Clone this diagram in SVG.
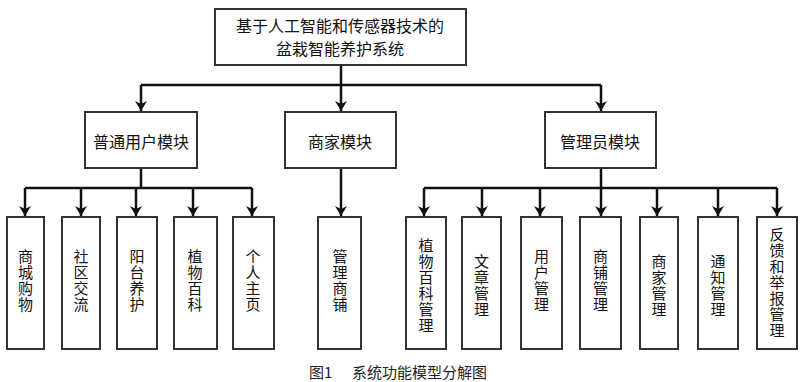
<svg xmlns="http://www.w3.org/2000/svg" width="800" height="382" viewBox="0 0 800 382">
<style>
.box{fill:#fff;stroke:#333;stroke-width:2}
.t{font-family:"Noto Sans CJK SC",sans-serif;font-size:16px;fill:#111;text-anchor:middle}
.v{font-family:"Noto Sans CJK SC",sans-serif;font-size:15px;fill:#111;text-anchor:middle;writing-mode:vertical-rl;letter-spacing:1px}
.c{fill:none;stroke:#111;stroke-width:2.5}
.cap{font-family:"Noto Sans CJK SC",sans-serif;font-size:15px;fill:#222}
</style>
<defs>
<marker id="a" markerUnits="userSpaceOnUse" markerWidth="12" markerHeight="12" refX="10" refY="6" orient="auto" viewBox="0 0 12 12">
<path d="M0,0 L10,6 L0,12 L3,6 z" fill="#111"/>
</marker>
</defs>
<rect width="800" height="382" fill="#fff"/>
<g id="connectors">
<path class="c" d="M341,65 V85 M141,85 H601"/>
<path class="c" d="M141,85 V111" marker-end="url(#a)"/>
<path class="c" d="M341,85 V111" marker-end="url(#a)"/>
<path class="c" d="M601,85 V111" marker-end="url(#a)"/>
<path class="c" d="M141,168 V188 M25,188 H252"/>
<path class="c" d="M25,188 V216" marker-end="url(#a)"/>
<path class="c" d="M81,188 V216" marker-end="url(#a)"/>
<path class="c" d="M136,188 V216" marker-end="url(#a)"/>
<path class="c" d="M193,188 V216" marker-end="url(#a)"/>
<path class="c" d="M252,188 V216" marker-end="url(#a)"/>
<path class="c" d="M341,168 V216" marker-end="url(#a)"/>
<path class="c" d="M601,168 V188 M424,188 H777"/>
<path class="c" d="M424,188 V216" marker-end="url(#a)"/>
<path class="c" d="M482,188 V216" marker-end="url(#a)"/>
<path class="c" d="M540,188 V216" marker-end="url(#a)"/>
<path class="c" d="M601,188 V216" marker-end="url(#a)"/>
<path class="c" d="M657,188 V216" marker-end="url(#a)"/>
<path class="c" d="M718,188 V216" marker-end="url(#a)"/>
<path class="c" d="M777,188 V216" marker-end="url(#a)"/>
</g>
<g id="root">
<rect class="box" x="215" y="9" width="251" height="56"/>
<text class="t" x="340" y="32">基于人工智能和传感器技术的</text>
<text class="t" x="340" y="55">盆栽智能养护系统</text>
</g>
<g id="m-user">
<rect class="box" x="85" y="112" width="112" height="56"/>
<text class="t" x="141" y="148">普通用户模块</text>
</g>
<g id="m-merchant">
<rect class="box" x="285" y="112" width="111" height="56"/>
<text class="t" x="340" y="148">商家模块</text>
</g>
<g id="m-admin">
<rect class="box" x="545" y="112" width="111" height="56"/>
<text class="t" x="600" y="148">管理员模块</text>
</g>
<g id="l1"><rect class="box" x="7" y="217" width="37" height="132"/><text class="v" x="25.5" y="281">商城购物</text></g>
<g id="l2"><rect class="box" x="62" y="217" width="38" height="132"/><text class="v" x="81" y="281">社区交流</text></g>
<g id="l3"><rect class="box" x="117" y="217" width="40" height="132"/><text class="v" x="137" y="281">阳台养护</text></g>
<g id="l4"><rect class="box" x="174" y="217" width="43" height="132"/><text class="v" x="195" y="281">植物百科</text></g>
<g id="l5"><rect class="box" x="233" y="217" width="41" height="132"/><text class="v" x="253" y="281">个人主页</text></g>
<g id="l6"><rect class="box" x="318" y="217" width="43" height="132"/><text class="v" x="340" y="281">管理商铺</text></g>
<g id="a1"><rect class="box" x="406" y="217" width="40" height="132"/><text class="v" x="426" y="286">植物百科管理</text></g>
<g id="a2"><rect class="box" x="462" y="217" width="39" height="132"/><text class="v" x="481.5" y="286">文章管理</text></g>
<g id="a3"><rect class="box" x="521" y="217" width="41" height="132"/><text class="v" x="541.5" y="281">用户管理</text></g>
<g id="a4"><rect class="box" x="580" y="217" width="41" height="132"/><text class="v" x="600.5" y="281">商铺管理</text></g>
<g id="a5"><rect class="box" x="640" y="217" width="38" height="132"/><text class="v" x="659" y="286">商家管理</text></g>
<g id="a6"><rect class="box" x="698" y="217" width="40" height="132"/><text class="v" x="718" y="286">通知管理</text></g>
<g id="a7"><rect class="box" x="757" y="217" width="40" height="132"/><text class="v" x="777" y="283">反馈和举报管理</text></g>
<text class="cap" x="309" y="378">图1<tspan x="352">系统功能模型分解图</tspan></text>
</svg>
